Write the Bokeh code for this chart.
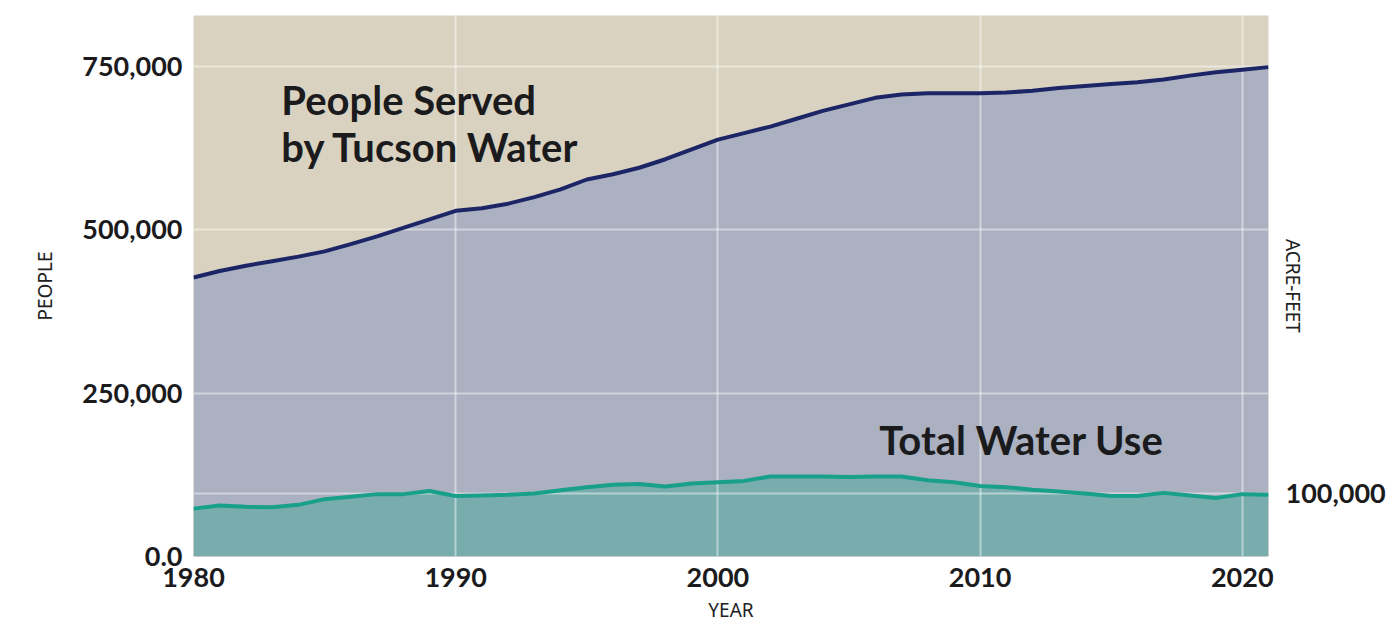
from bokeh.plotting import figure
from bokeh.models import Range1d, LinearAxis, FixedTicker, Grid, Label
from bokeh.embed import file_html
from bokeh.resources import INLINE

years = list(range(1980, 2022))
people = [427000, 437000, 445000, 452000, 459000, 467000, 478000, 490000, 503000, 516000,
          529000, 533000, 540000, 550000, 562000, 577000, 585000, 595000, 608000, 623000,
          638000, 648000, 658000, 670000, 682000, 692000, 702000, 707000, 709000, 709000,
          709000, 710000, 713000, 717000, 720000, 723000, 726000, 730000, 736000, 741000,
          745000, 749000]
water = [76000, 81000, 79000, 78000, 82000, 91000, 95000, 99000, 99000, 104000,
         96000, 97000, 98000, 100000, 105000, 110000, 114000, 115000, 111000, 116000,
         118000, 120000, 127000, 127000, 127000, 126000, 127000, 127000, 121000, 118000,
         112000, 110000, 106000, 103000, 100000, 96000, 96000, 101000, 97000, 93000,
         99000, 98000]

people_ticks = [0, 250000, 500000, 750000]
people_tick_labels = {0: "0.0", 250000: "250,000", 500000: "500,000", 750000: "750,000"}
acre_ticks = [100000]
acre_tick_labels = {100000: "100,000"}
year_ticks = [1980, 1990, 2000, 2010, 2020]

TAN = "#d9d2c0"
GREY = "#abb1c0"
NAVY = "#1c2566"
TEAL_LINE = "#19a08b"
TEAL_AREA = "#79adad"
TXT = "#1b1b1d"
FONT = "Lato"

p = figure(width=1391, height=626, output_backend="svg", toolbar_location=None,
           x_range=Range1d(1980, 2021), y_range=Range1d(0, 828000),
           min_border_left=193, min_border_right=123, min_border_top=15, min_border_bottom=70)
p.extra_y_ranges = {"acre": Range1d(0, 858700)}
p.background_fill_color = TAN
p.border_fill_color = "white"
p.outline_line_color = None

# areas
a1 = p.varea(x=years, y1=0, y2=people, fill_color=GREY)
a2 = p.varea(x=years, y1=0, y2=water, fill_color=TEAL_AREA, y_range_name="acre")
a1.level = "image"
a2.level = "image"
p.line(years, people, line_color=NAVY, line_width=4)
p.line(years, water, line_color=TEAL_LINE, line_width=4, y_range_name="acre")

# axes
p.xaxis.ticker = FixedTicker(ticks=year_ticks)
p.xaxis.axis_label = "YEAR"
p.yaxis.ticker = FixedTicker(ticks=people_ticks)
p.yaxis.major_label_overrides = people_tick_labels
p.yaxis.axis_label = "PEOPLE"

ax_r = LinearAxis(y_range_name="acre", ticker=FixedTicker(ticks=acre_ticks),
                  major_label_overrides=acre_tick_labels, axis_label="ACRE-FEET")
p.add_layout(ax_r, "right")

for ax in [p.xaxis[0], p.yaxis[0], ax_r]:
    ax.axis_line_color = None
    ax.major_tick_line_color = None
    ax.minor_tick_line_color = None
    ax.major_label_text_font = FONT
    ax.major_label_text_font_style = "bold"
    ax.major_label_text_font_size = "27px"
    ax.major_label_text_color = TXT
    ax.axis_label_text_font = "Noto Sans"
    ax.axis_label_text_font_style = "normal"
    ax.axis_label_text_font_size = "19px"
    ax.axis_label_text_color = "#222222"

p.xaxis.major_label_standoff = 5
p.xaxis.axis_label_standoff = 7
p.yaxis.major_label_standoff = 5
p.yaxis.axis_label_standoff = 21
ax_r.major_label_standoff = 11
ax_r.axis_label_standoff = -109

# grids
p.xgrid.grid_line_color = "white"
p.xgrid.grid_line_alpha = 0.45
p.xgrid.grid_line_width = 2
p.ygrid.grid_line_color = "white"
p.ygrid.grid_line_alpha = 0.45
p.ygrid.grid_line_width = 2
g2 = Grid(dimension=1, ticker=FixedTicker(ticks=acre_ticks), y_range_name="acre",
          grid_line_color="white", grid_line_alpha=0.45, grid_line_width=2)
p.add_layout(g2, "center")

# annotations
for txt, yy in [("People Served", 698000), ("by Tucson Water", 626000)]:
    p.add_layout(Label(x=1983.35, y=yy, text=txt, text_font=FONT, text_font_style="bold",
                       text_font_size="40px", text_color=TXT, text_baseline="alphabetic"))
p.add_layout(Label(x=2006.15, y=177600, text="Total Water Use", text_font=FONT,
                   text_font_style="bold", text_font_size="40px", text_color=TXT,
                   text_baseline="alphabetic"))

open("out.html", "w").write(file_html(p, INLINE))
